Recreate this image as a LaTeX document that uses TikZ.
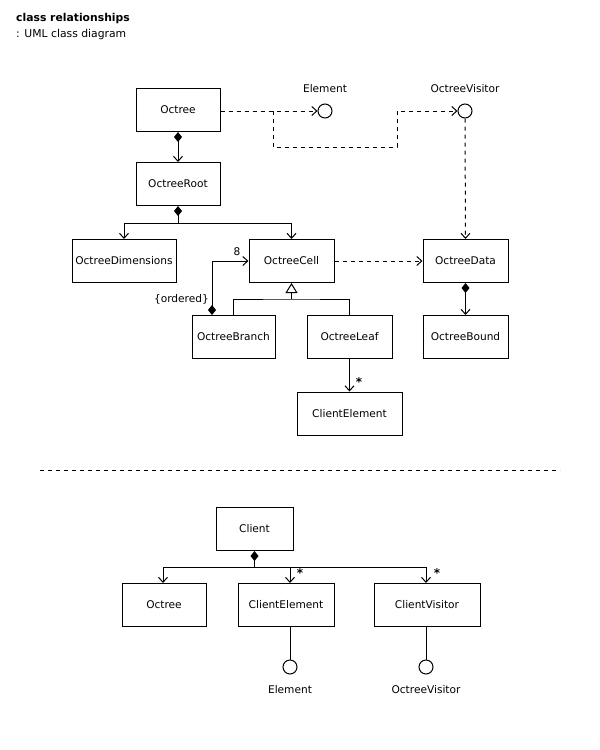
\documentclass[tikz,border=0pt]{standalone}
\usepackage{fontspec}
\setmainfont{DejaVu Sans}
\usetikzlibrary{arrows.meta}
\begin{document}
\begin{tikzpicture}[x=1pt,y=-1pt,
  every node/.style={font=\fontsize{10.6}{12}\selectfont},
  cls/.style={draw,line width=1pt,minimum height=43pt,inner sep=0pt,minimum width=#1},
  iface/.style={draw,circle,line width=1pt,minimum size=14pt,inner sep=0pt},
  conn/.style={line width=1pt},
  dconn/.style={line width=1pt,dash pattern=on 4pt off 4pt},
  opena/.style={-{Straight Barb[length=5pt,width=9pt]}},
  comp/.style={{Diamond[length=10pt,width=8pt]}-{Straight Barb[length=5pt,width=9pt]}},
  diastart/.style={{Diamond[length=10pt,width=8pt]}-},
  gen/.style={-{Triangle[open,length=10pt,width=12pt,fill=white]}},
  lbl/.style={inner sep=0pt},
  star/.style={inner sep=0pt,font=\fontsize{12}{12}\bfseries\selectfont}
]
\useasboundingbox (0,0) rectangle (600,750);

% title
\node[lbl,anchor=west,font=\fontsize{10.8}{12}\bfseries\selectfont] (title) at (16,19) {class relationships};
\node[lbl,anchor=west,font=\fontsize{10.8}{12}\selectfont] (subtitle) at (16,35) {: UML class diagram};

% upper part
\node[cls=84pt] (octree) at (178,110) {Octree};
\node[cls=84pt] (root) at (178,184) {OctreeRoot};
\node[cls=104pt] (dims) at (124,261) {OctreeDimensions};
\node[cls=85pt] (cell) at (291.5,261) {OctreeCell};
\node[cls=85pt] (data) at (465.5,261) {OctreeData};
\node[cls=83pt] (branch) at (233.5,337) {OctreeBranch};
\node[cls=85pt] (leaf) at (349.5,337) {OctreeLeaf};
\node[cls=85pt] (bound) at (465.5,337) {OctreeBound};
\node[cls=105pt] (celem) at (349.5,413.5) {ClientElement};

\node[iface] (iElem) at (325,111) {};
\node[iface] (iVis) at (465,111) {};
\node[lbl] (iElemL) at (325,89) {Element};
\node[lbl] (iVisL) at (465,89) {OctreeVisitor};

\draw[conn,comp] (octree.south) -- (root.north);
\coordinate (rj) at (178,223);
\draw[conn,diastart] (root.south) -- (rj);
\draw[conn,opena] (rj) -| (dims.north);
\draw[conn,opena] (rj) -| (cell.north);

\draw[conn,comp] ([xshift=-21.5pt]branch.north) |- (cell.west);
\node[lbl] (eight) at (237,252) {8};
\node[lbl,anchor=east] (ordered) at (209,299) {\{ordered\}};

\coordinate (gj) at (291.5,299);
\draw[conn] ([xshift=-0.5pt]branch.north) |- (gj) -| (leaf.north);
\draw[conn,gen] (gj) -- (cell.south);

\draw[conn,opena] (leaf.south) -- (celem.north);
\node[star] (s1) at (359,382) {*};

\draw[dconn,opena] (cell.east) -- (data.west);
\draw[conn,comp] (data.south) -- (bound.north);

\draw[dconn,opena] (octree.east |- iElem.west) -- (iElem.west);
\coordinate (dj) at (273,111);
\coordinate (dk) at (397,147);
\draw[dconn,opena] (dj) |- (dk) |- (iVis.west);
\draw[dconn,opena] (iVis.south) -- (data.north);

% separator
\coordinate (sepL) at (40,470);
\coordinate (sepR) at (560,470);
\draw[dconn] (sepL) -- (sepR);

% lower part
\node[cls=77pt] (client) at (254.5,529) {Client};
\node[cls=84pt] (octree2) at (164,605) {Octree};
\node[cls=96pt] (celem2) at (286,605) {ClientElement};
\node[cls=106pt] (cvis) at (427,605) {ClientVisitor};
\node[iface] (iElem2) at (290,667) {};
\node[iface] (iVis2) at (426,667) {};
\node[lbl] (iElem2L) at (290,690) {Element};
\node[lbl] (iVis2L) at (426,690) {OctreeVisitor};

\coordinate (cj) at (254.5,567);
\draw[conn,diastart] (client.south) -- (cj);
\draw[conn,opena] (cj) -| ([xshift=-1pt]octree2.north);
\draw[conn,opena] (cj) -| ([xshift=4pt]celem2.north);
\draw[conn,opena] (cj) -| ([xshift=-1pt]cvis.north);
\node[star] (s2) at (300,573) {*};
\node[star] (s3) at (437,573) {*};

\draw[conn] ([xshift=4pt]celem2.south) -- (iElem2.north);
\draw[conn] ([xshift=-1pt]cvis.south) -- (iVis2.north);
\end{tikzpicture}
\end{document}
